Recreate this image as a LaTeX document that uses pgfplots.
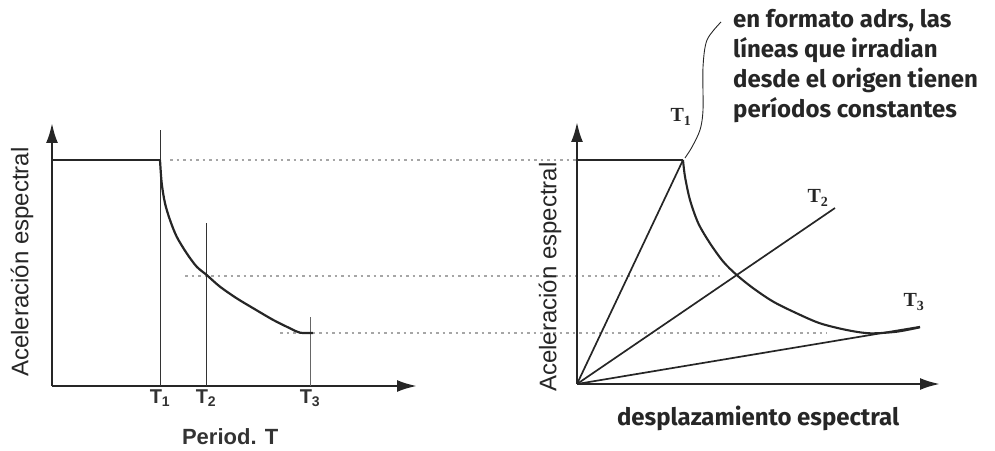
\documentclass[border=0pt]{standalone}
\usepackage{fontspec}
\setmainfont{Liberation Sans}
\newfontfamily\lab{Liberation Sans}
\newfontfamily\annot{Fira Sans}
\newfontfamily\ser{Liberation Serif}
\usepackage{pgfplots}
\pgfplotsset{compat=1.18}
\usetikzlibrary{arrows.meta}
\begin{document}
\begin{tikzpicture}[x=1pt,y=1pt]
\useasboundingbox (0,0) rectangle (995,450);
% ---------------- left axis ----------------
\begin{axis}[
  at={(52pt,64pt)}, anchor=south west, scale only axis,
  width=365pt, height=263pt,
  xmin=0, xmax=365, ymin=0, ymax=263, clip=false,
  axis x line=bottom, axis y line=left,
  axis line style={line width=2.4pt, black!85, -{Latex[length=20pt,width=12pt]}},
  xtick={108,154,258},
  xticklabels={T\textsubscript{1},T\textsubscript{2},T\textsubscript{3}},
  ytick=\empty, major tick length=0pt,
  xticklabel style={font=\lab\bfseries\fontsize{20}{24}\selectfont, black!80},
  xlabel={Period. T},
  xlabel style={at={(0.488,-0.194)}, anchor=center, font=\lab\bfseries\fontsize{22}{28}\selectfont, black!80},
  ylabel={Aceleración espectral},
  ylabel style={at={(-0.082,0.471)}, anchor=center, font=\lab\fontsize{24}{28}\selectfont, black!85},
]
% dotted projection lines
\addplot[gray!70, line width=1.6pt, dash pattern=on 2.5pt off 4pt] coordinates {(118,226) (525,226)};
\addplot[gray!70, line width=1.6pt, dash pattern=on 2.5pt off 4pt] coordinates {(133,110) (668,110)};
\addplot[gray!70, line width=1.6pt, dash pattern=on 2.5pt off 4pt] coordinates {(228,53) (775,53)};
% vertical period lines
\addplot[black!80, line width=1pt] coordinates {(108,0) (108,256)};
\addplot[black!80, line width=1pt] coordinates {(154,0) (154,163)};
\addplot[black!60, line width=1pt] coordinates {(258,0) (258,69)};
% spectrum
\addplot[black!85, line width=2.6pt] coordinates {(0,226) (108,226)};
\addplot[black!85, line width=2.2pt, smooth, tension=0.5] coordinates {
(108,226) (109.7,202.7) (113,182.7) (118,166) (124.7,149.3) (134.7,132.7)
(144.7,119.3) (154.7,111) (168,99.3) (184.7,87.7) (201.3,77.7) (221.3,66)
(238,57.7) (248,53.3) (261,53)};
\end{axis}
% ---------------- right axis ----------------
\begin{axis}[
  at={(577pt,66pt)}, anchor=south west, scale only axis,
  width=363pt, height=262pt,
  xmin=0, xmax=363, ymin=0, ymax=262, clip=false,
  axis x line=bottom, axis y line=left,
  axis line style={line width=2.4pt, black!85, -{Latex[length=20pt,width=12pt]}},
  xtick=\empty, ytick=\empty, major tick length=0pt,
  xlabel={\annot\bfseries desplazamiento espectral},
  xlabel style={at={(0.499,-0.13)}, anchor=center, font=\fontsize{24}{28}\selectfont, black!85},
  ylabel={Aceleración espectral},
  ylabel style={at={(-0.074,0.408)}, anchor=center, font=\lab\fontsize{24}{28}\selectfont, black!85},
]
\addplot[black!85, line width=2.4pt] coordinates {(0,224) (106,224)};
\addplot[black!85, line width=1.7pt] coordinates {(0,0) (106,224)};
\addplot[black!85, line width=1.7pt] coordinates {(0,0) (258,176)};
\addplot[black!85, line width=1.7pt] coordinates {(0,0) (343,57.3)};
\addplot[black!85, line width=2.1pt, smooth, tension=0.5] coordinates {
(106,224) (108,207.3) (113,184) (121.3,160.7) (133,140.7) (146.3,122.3)
(159.7,109) (176.3,95.7) (196.3,82.3) (219.7,70.7) (243,60.7) (269.7,54)
(293,50.7) (319.7,52.3) (343,56.7)};
% leader line of the note
\addplot[black!85, line width=0.9pt, smooth] coordinates {
(144,362) (130,344) (126,317) (126,274) (123,254) (115,237) (108,226)};
\node[font=\ser\bfseries\fontsize{20}{22}\selectfont, black!85] at (axis cs:104,267) {T\textsubscript{1}};
\node[font=\ser\bfseries\fontsize{20}{22}\selectfont, black!85] at (axis cs:241,186) {T\textsubscript{2}};
\node[font=\ser\bfseries\fontsize{20}{22}\selectfont, black!85] at (axis cs:337,82) {T\textsubscript{3}};
\node[anchor=north west, align=left, inner sep=0pt,
      font=\annot\bfseries\fontsize{24}{30}\selectfont, black!85] at (axis cs:156,375)
  {en formato adrs, las\\líneas que irradian\\desde el origen tienen\\períodos constantes};
\end{axis}
\end{tikzpicture}
\end{document}
